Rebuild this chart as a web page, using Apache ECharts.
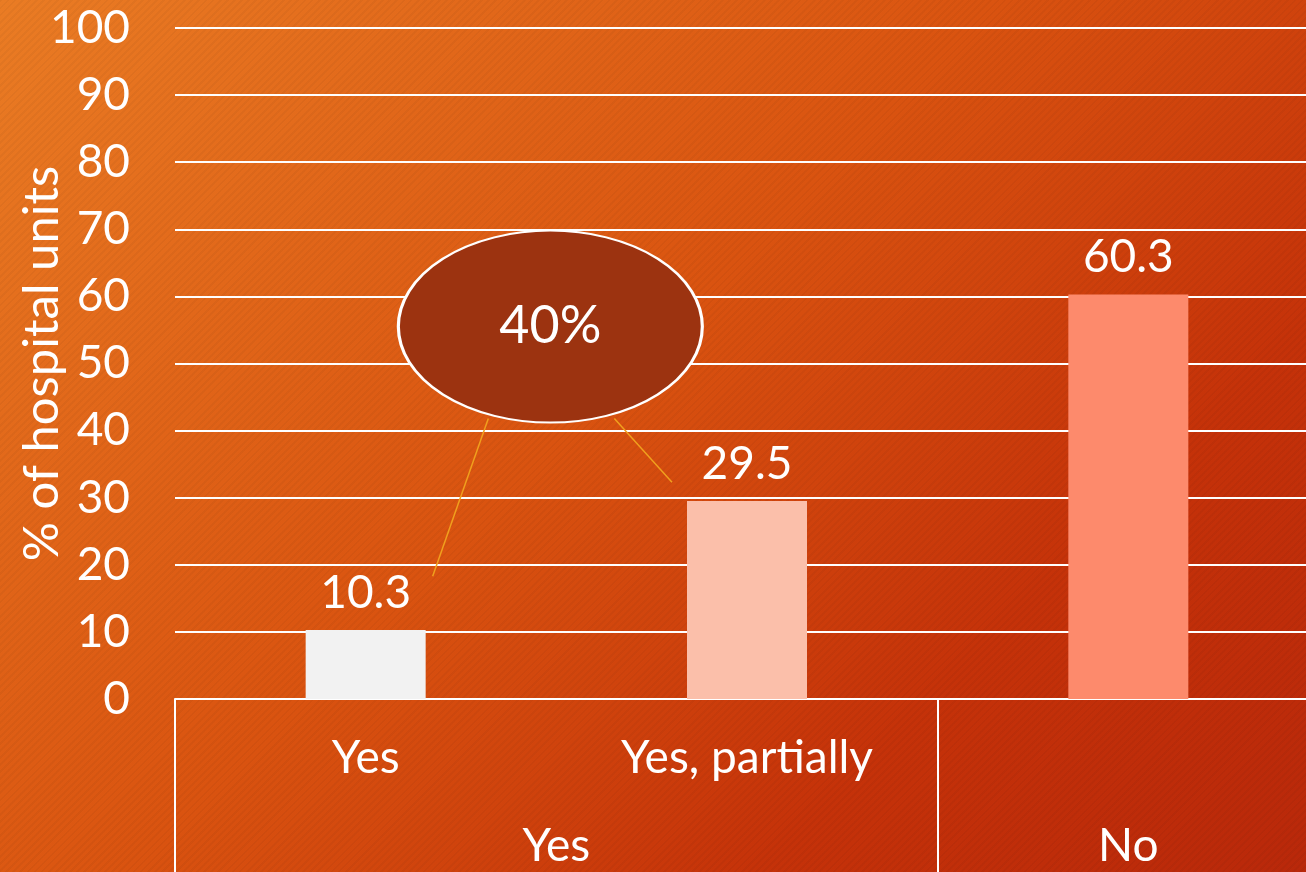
<!DOCTYPE html>
<html lang="en">
<head>
    <meta charset="UTF-8">
    <title>Hospital units</title>
    <style>
        html, body { margin: 0; padding: 0; }
        #box {
            width: 1306px;
            height: 872px;
            background:
                repeating-linear-gradient(135deg, rgba(0, 0, 0, 0.035) 0px, rgba(0, 0, 0, 0.035) 2px, rgba(255, 255, 255, 0) 2px, rgba(255, 255, 255, 0) 5px),
                linear-gradient(135deg, #ea7c24 0%, #da5410 45%, #c53209 75%, #b9280a 100%);
        }
    </style>
</head>
<body>
    <div id="box"></div>
    <script src="https://cdn.jsdelivr.net/npm/echarts@6/dist/echarts.min.js"></script>
    <script>
        // data
        var categories = ['Yes', 'Yes, partially', 'No'];
        var subLabels = ['Yes', 'Yes, partially', ''];   // lower row of the axis ("No" has no sub level)
        var values = [10.3, 29.5, 60.3];
        var barColors = ['#f2f2f2', '#fbbfaa', '#fd8a6c'];
        // upper level of the axis: name + span of categories [from, to)
        var groups = ['Yes', 'No'];
        var groupSpans = [[0, 2], [2, 3]];
        var yTicks = [0, 10, 20, 30, 40, 50, 60, 70, 80, 90, 100];
        var callout = '40%';

        var font = 'Lato, "Open Sans", sans-serif';
        var fs = 46;
        var groupCenters = groupSpans.map(function (s) { return (s[0] + s[1]) / 2; });
        var groupEdges = groupSpans.map(function (s) { return s[0]; });

        var myChart = echarts.init(document.getElementById('box'));

        var option = {
            backgroundColor: 'transparent',
            animation: false,
            textStyle: { fontFamily: font },
            grid: { left: 175, top: 28, width: 1144, height: 671, containLabel: false, outerBoundsMode: 'none' },
            xAxis: [
                {
                    type: 'category',
                    data: categories,
                    axisLine: { lineStyle: { color: '#fff', width: 2 } },
                    axisTick: {
                        show: true,
                        length: 180,
                        // only the group borders get a line
                        interval: function (i) { return groupEdges.indexOf(i) >= 0; },
                        lineStyle: { color: '#fff', width: 2 }
                    },
                    axisLabel: {
                        color: '#fff', fontSize: fs, margin: 36, interval: 0, fontFamily: font,
                        formatter: function (v, i) { return subLabels[i]; }
                    }
                },
                {
                    type: 'value',
                    min: 0,
                    max: categories.length,
                    position: 'bottom',
                    axisLine: { show: false },
                    axisTick: { show: false },
                    splitLine: { show: false },
                    axisLabel: {
                        color: '#fff',
                        fontSize: fs,
                        margin: 124,
                        fontFamily: font,
                        customValues: groupCenters,
                        formatter: function (v) {
                            var k = groupCenters.indexOf(v);
                            return k >= 0 ? groups[k] : '';
                        }
                    }
                }
            ],
            yAxis: {
                type: 'value',
                min: yTicks[0],
                max: yTicks[yTicks.length - 1],
                interval: 10,
                name: '% of hospital units',
                nameLocation: 'middle',
                nameGap: 108,
                nameMoveOverlap: false,
                nameTextStyle: { color: '#fff', fontSize: 49, fontFamily: font },
                axisLine: { show: false },
                axisTick: { show: false },
                splitLine: { lineStyle: { color: '#fff', width: 2 } },
                axisLabel: { color: '#fff', fontSize: fs, margin: 45, fontFamily: font }
            },
            series: [
                {
                    type: 'bar',
                    xAxisIndex: 0,
                    barWidth: 120,
                    data: values.map(function (v, i) {
                        return { value: v, itemStyle: { color: barColors[i] } };
                    }),
                    label: {
                        show: true,
                        position: 'top',
                        distance: 14,
                        color: '#fff',
                        fontSize: fs,
                        fontFamily: font
                    }
                }
            ]
        };

        option && myChart.setOption(option);

        // callout bubble linking the two "Yes" bars
        var c = myChart.convertToPixel({ gridIndex: 0 }, [0, 55.5]);
        var c1 = myChart.convertToPixel({ xAxisIndex: 0, yAxisIndex: 0 }, [0, 0]);
        var c2 = myChart.convertToPixel({ xAxisIndex: 0, yAxisIndex: 0 }, [1, 0]);
        var cx = (c1[0] + c2[0]) / 2 - 6;
        var cy = c[1];
        var rx = 152, ry = 96;
        var endA = myChart.convertToPixel({ xAxisIndex: 0, yAxisIndex: 0 }, [0, 18.3]);
        var endB = myChart.convertToPixel({ xAxisIndex: 0, yAxisIndex: 0 }, [1, 32.3]);

        myChart.setOption({
            graphic: [
                { type: 'line', z: 10, shape: { x1: cx - 62, y1: cy + 92, x2: endA[0] + 67, y2: endA[1] }, style: { stroke: '#f0a01e', lineWidth: 1.5 } },
                { type: 'line', z: 10, shape: { x1: cx + 64, y1: cy + 92, x2: endB[0] - 75, y2: endB[1] }, style: { stroke: '#f0a01e', lineWidth: 1.5 } },
                {
                    type: 'circle',
                    z: 11,
                    x: cx, y: cy,
                    scaleX: rx / ry,
                    shape: { cx: 0, cy: 0, r: ry },
                    style: { fill: '#9c3310', stroke: '#fff', lineWidth: 2, strokeNoScale: true }
                },
                {
                    type: 'text',
                    z: 12,
                    x: cx, y: cy,
                    style: { text: callout, fill: '#fff', font: '52px ' + font, align: 'center', verticalAlign: 'middle' }
                }
            ]
        });
    </script>
</body>
</html>
